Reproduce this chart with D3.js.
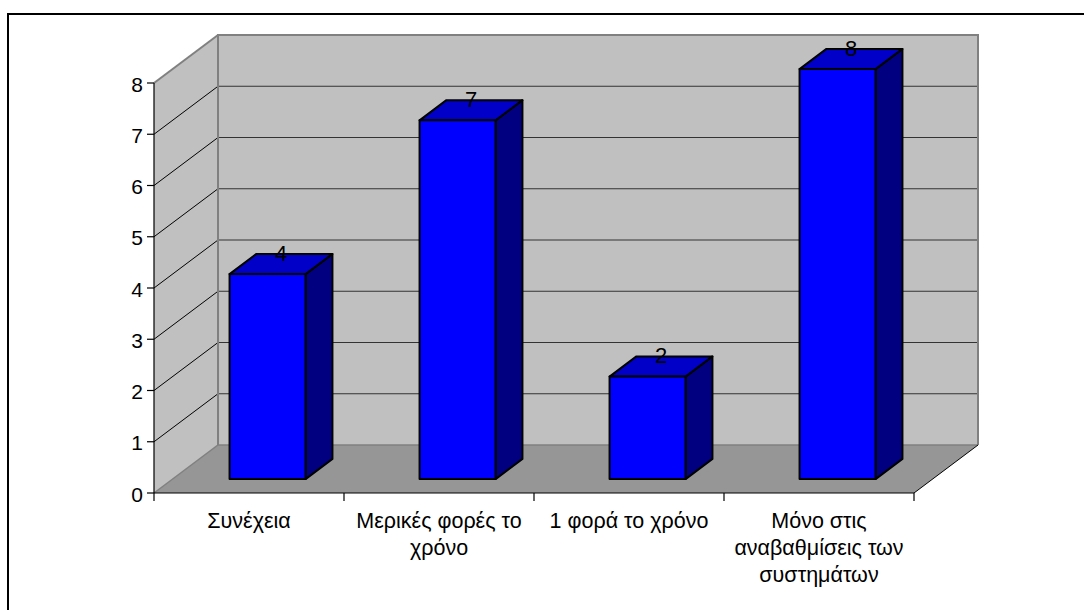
<!DOCTYPE html>
<html>
<head>
  <meta charset="UTF-8">
  <title>3D bar chart</title>
  <style>
    body { margin: 0; padding: 0; background-color: #fff; }
    svg { display: block; }
    text { font-family: "Liberation Sans", Arial, sans-serif; fill: #000; }
  </style>
</head>
<body>
  <div id="chart"></div>
  <script src="https://cdnjs.cloudflare.com/ajax/libs/d3/7.8.4/d3.min.js"></script>
  <script>
    // chart data
    const categories = [
      ["Συνέχεια"],
      ["Μερικές φορές το", "χρόνο"],
      ["1 φορά το χρόνο"],
      ["Μόνο στις", "αναβαθμίσεις των", "συστημάτων"]
    ];
    const values = [4, 7, 2, 8];
    const yTicks = [0, 1, 2, 3, 4, 5, 6, 7, 8];

    const width = 1084;
    const height = 610;

    // front plane of the plot, plus depth offset for the 3D look
    const x0 = 154, x1 = 914;
    const yBottom = 493, yTop = 83;
    const depthX = 64, depthY = 48;
    const barFront = 0.29, barBack = 0.71;

    const svg = d3.select("#chart")
      .append("svg")
      .attr("width", width)
      .attr("height", height);

    const x = d3.scaleBand()
      .domain(d3.range(categories.length))
      .range([x0, x1]);

    const y = d3.scaleLinear()
      .domain([0, 8])
      .range([yBottom, yTop]);

    // project a point on the front plane back by depth z (0..1)
    function p(px, v, z) {
      return [px + z * depthX, y(v) - z * depthY];
    }
    const line = d3.line();

    // outer frame
    svg.append("path")
      .attr("d", `M8,${height} L8,14 L${width},14`)
      .attr("fill", "none")
      .attr("stroke", "#000")
      .attr("stroke-width", 2);

    // floor
    svg.append("path")
      .attr("d", line([p(x0, 0, 0), p(x1, 0, 0), p(x1, 0, 1), p(x0, 0, 1)]) + "Z")
      .attr("fill", "#969696")
      .attr("stroke", "none");

    // left wall
    svg.append("path")
      .attr("d", line([p(x0, 0, 0), p(x0, 8, 0), p(x0, 8, 1), p(x0, 0, 1)]) + "Z")
      .attr("fill", "#c0c0c0")
      .attr("stroke", "none");

    // back wall
    svg.append("path")
      .attr("d", line([p(x0, 0, 1), p(x0, 8, 1), p(x1, 8, 1), p(x1, 0, 1)]) + "Z")
      .attr("fill", "#c0c0c0")
      .attr("stroke", "none");

    // gridlines on back wall and left wall
    const gridVals = yTicks.filter(v => v > 0 && v < 8);
    svg.selectAll("path.grid-back")
      .data(gridVals)
      .enter()
      .append("path")
      .attr("class", "grid-back")
      .attr("d", v => line([p(x0, v, 1), p(x1, v, 1)]))
      .attr("stroke", "#333")
      .attr("stroke-width", 1.2)
      .attr("fill", "none");

    svg.selectAll("path.grid-left")
      .data(gridVals)
      .enter()
      .append("path")
      .attr("class", "grid-left")
      .attr("d", v => line([p(x0, v, 0), p(x0, v, 1)]))
      .attr("stroke", "#000")
      .attr("stroke-width", 1)
      .attr("fill", "none");

    // wall borders
    svg.append("path")
      .attr("d", line([p(x0, 0, 1), p(x0, 8, 1), p(x1, 8, 1), p(x1, 0, 1)]))
      .attr("fill", "none")
      .attr("stroke", "#808080")
      .attr("stroke-width", 2);
    svg.append("path")
      .attr("d", line([p(x0, 8, 0), p(x0, 8, 1)]))
      .attr("fill", "none")
      .attr("stroke", "#808080")
      .attr("stroke-width", 2);
    svg.append("path")
      .attr("d", line([p(x0, 0, 0), p(x0, 0, 1), p(x1, 0, 1)]))
      .attr("fill", "none")
      .attr("stroke", "#808080")
      .attr("stroke-width", 1.5);
    svg.append("path")
      .attr("d", line([p(x1, 0, 0), p(x1, 0, 1)]))
      .attr("fill", "none")
      .attr("stroke", "#000")
      .attr("stroke-width", 1);

    // bars
    const bw = 76;
    const bars = svg.selectAll("g.bar")
      .data(values)
      .enter()
      .append("g")
      .attr("class", "bar");

    const barX = i => x(i) + x.bandwidth() / 2 - bw / 2;

    bars.append("path")
      .attr("d", (v, i) => line([
        p(barX(i) + bw, 0, barFront), p(barX(i) + bw, 0, barBack),
        p(barX(i) + bw, v, barBack), p(barX(i) + bw, v, barFront)
      ]) + "Z")
      .attr("fill", "#000080");

    bars.append("path")
      .attr("d", (v, i) => line([
        p(barX(i), v, barFront), p(barX(i), v, barBack),
        p(barX(i) + bw, v, barBack), p(barX(i) + bw, v, barFront)
      ]) + "Z")
      .attr("fill", "#0000c8");

    bars.append("path")
      .attr("d", (v, i) => line([
        p(barX(i), 0, barFront), p(barX(i), v, barFront),
        p(barX(i) + bw, v, barFront), p(barX(i) + bw, 0, barFront)
      ]) + "Z")
      .attr("fill", "#0000ff");

    bars.selectAll("path")
      .attr("stroke", "#000")
      .attr("stroke-width", 2)
      .attr("stroke-linejoin", "round");

    // data labels
    bars.append("text")
      .attr("x", (v, i) => p(x(i) + x.bandwidth() / 2, v, 0.5)[0])
      .attr("y", (v, i) => p(x(i) + x.bandwidth() / 2, v, 0.5)[1] - 11)
      .attr("text-anchor", "middle")
      .attr("dominant-baseline", "central")
      .attr("font-size", 22)
      .text(v => v);

    // y axis
    svg.append("line")
      .attr("x1", x0).attr("x2", x0)
      .attr("y1", y(0)).attr("y2", y(8))
      .attr("stroke", "#000")
      .attr("stroke-width", 1.2);

    svg.selectAll("line.ytick")
      .data(yTicks)
      .enter()
      .append("line")
      .attr("class", "ytick")
      .attr("x1", x0 - 7).attr("x2", x0)
      .attr("y1", d => y(d)).attr("y2", d => y(d))
      .attr("stroke", "#000")
      .attr("stroke-width", 1.2);

    svg.selectAll("text.ylabel")
      .data(yTicks)
      .enter()
      .append("text")
      .attr("class", "ylabel")
      .attr("x", x0 - 11)
      .attr("y", d => y(d) + 1)
      .attr("text-anchor", "end")
      .attr("dominant-baseline", "central")
      .attr("font-size", 21)
      .text(d => d);

    // x axis
    svg.append("line")
      .attr("x1", x0).attr("x2", x1)
      .attr("y1", yBottom).attr("y2", yBottom)
      .attr("stroke", "#000")
      .attr("stroke-width", 1.2);

    svg.selectAll("line.xtick")
      .data(d3.range(categories.length + 1))
      .enter()
      .append("line")
      .attr("class", "xtick")
      .attr("x1", i => x0 + i * x.step()).attr("x2", i => x0 + i * x.step())
      .attr("y1", yBottom).attr("y2", yBottom + 8)
      .attr("stroke", "#000")
      .attr("stroke-width", 1.2);

    const catLabels = svg.selectAll("text.xlabel")
      .data(categories)
      .enter()
      .append("text")
      .attr("class", "xlabel")
      .attr("text-anchor", "middle")
      .attr("font-size", 21.5);

    catLabels.selectAll("tspan")
      .data((d, i) => d.map(t => ({ t, i })))
      .enter()
      .append("tspan")
      .attr("x", d => x(d.i) + x.bandwidth() / 2)
      .attr("y", (d, j) => 528 + j * 27)
      .text(d => d.t);
  </script>
</body>
</html>
